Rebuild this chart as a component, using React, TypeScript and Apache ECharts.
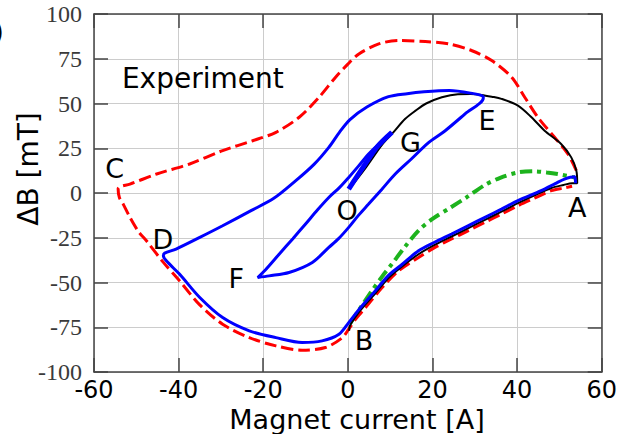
import React, { useEffect, useRef } from "react";
import * as echarts from "echarts";

const xTicks = { min: -60, max: 60, interval: 20 };
const yTicks = { min: -100, max: 100, interval: 25 };

const redLoop: number[][] = [
  [54, 12.5], [52, 21.8], [48.9, 31], [44.9, 42.3], [41.8, 53.5], [38.7, 64.7], [34, 74],
  [29.2, 79.6], [23.8, 83.3], [18.3, 84.6], [12, 85.2], [7.3, 83.3], [2.6, 77.7], [0, 72],
  [-2.9, 64.7], [-6.8, 53.5], [-11.5, 42.3], [-17, 33.9], [-22.5, 29.2], [-29.6, 23.7],
  [-37.4, 16.2], [-45.2, 10.6], [-51.5, 5], [-53.8, 3.6], [-54.3, 2.4], [-54, -2.5],
  [-53.1, -6.2], [-51.5, -13.6], [-49.5, -21.5], [-47.6, -26.7], [-43.7, -38.5], [-39.8, -49],
  [-35, -62.5], [-29.6, -73.3], [-23.3, -80.8], [-17, -85.4], [-10.8, -87.8], [-5.3, -86.3],
  [-1.3, -80.8], [0.2, -76], [2, -70], [4.2, -64], [8.1, -52.8], [12, -43.5], [16.7, -36],
  [20.5, -30.5], [24.5, -25.7], [28.5, -21], [32.4, -16.4], [36.3, -11.8], [40.2, -7.1],
  [44, -3], [48.1, 1.3], [51, 2.8], [53, 3.8],
];

const blackPath: number[][] = [
  [0.6, 3], [4.2, 14], [8.1, 27], [10.8, 34], [13.5, 41.3], [16, 46], [18.5, 50], [22.2, 53.5],
  [26, 55.2], [29, 55.3], [31.6, 54.8], [34, 53.8], [36.3, 52.6], [40.2, 48.8], [43.4, 42.3],
  [46.5, 34.8], [50.4, 27.4], [52.8, 19.9], [54, 12.5], [54.2, 5.5], [53, 5.5], [51, 4.5],
  [48.1, 2.8], [44, -1.5], [40.2, -5.7], [36.3, -10.4], [32.4, -15], [28.5, -19.6],
  [24.5, -24.3], [20.5, -29], [16.7, -34.2], [12.3, -42], [9.6, -47.5], [6.5, -56],
  [3, -65.5], [0.5, -74], [0.3, -77],
];

const bluePath: number[][] = [
  [53.8, 5.5], [53.6, 9.1], [51.2, 7.8], [49, 5.2], [45.7, 1.3], [40.2, -4.3], [36.3, -9],
  [32.4, -13.6], [28.5, -18.2], [24.5, -22.9], [20.5, -27.5], [16.7, -32.3], [12.5, -40.5],
  [9.6, -46], [6.5, -54.6], [3, -64], [0.2, -72.4], [-2.1, -78.9], [-6.1, -82.6],
  [-10.8, -83.5], [-17, -80.8], [-23.3, -77], [-29.6, -69.6], [-35, -58.4], [-39.8, -45.3],
  [-42.9, -37.9], [-43.6, -35], [-43.3, -33.6], [-40.6, -31.3], [-35, -24.8], [-29.6, -18.3],
  [-23, -10], [-17.5, -3], [-12.3, 6.9], [-8, 16], [-4.5, 25.5], [-2, 33.9], [0.5, 41],
  [4.5, 48], [9.6, 53.8], [14, 55.5], [18, 56.5], [24, 57.2], [29, 55.8], [32, 54],
  [32, 53], [27.7, 44.2], [23, 34.8], [19, 28], [15, 19], [11.2, 10.6], [8, 2], [4.9, -6.2],
  [2.5, -12.5], [0.2, -19.2], [-2.2, -25.5], [-4.5, -30.4], [-8.4, -38.8], [-13.9, -44.4],
  [-18.6, -46.3], [-21.3, -47.2], [-19.5, -43], [-16.2, -34.1], [-13, -25.5], [-10, -17.3],
  [-7.2, -9.5], [-4.5, -2.5], [-2, 3], [0.2, 8.7], [2.5, 15], [4.9, 21.8], [7.8, 28.5],
  [10.4, 33.9],
];

const blueOG: number[][] = [[10.4, 33.9], [7, 26], [3.5, 14], [0.2, 2.2]];

const greenPath: number[][] = [
  [0.5, -73], [3, -64], [5.7, -54.6], [8, -47], [10.4, -39.7], [13.5, -30], [16.7, -21],
  [20, -14.5], [24, -8.5], [28, -2.5], [32.4, 4.5], [36, 8.5], [40.2, 11.5], [44.2, 12.1],
  [47, 11.5], [49.6, 10.6], [53.6, 8.7],
];

const pointLabels: { name: string; value: number[] }[] = [
  { name: "C", value: [-55.1, 13.6] },
  { name: "D", value: [-43.7, -25.7] },
  { name: "F", value: [-26.4, -47.5] },
  { name: "O", value: [-0.2, -9.9] },
  { name: "G", value: [14.8, 28.3] },
  { name: "E", value: [32.9, 40.4] },
  { name: "A", value: [54.2, -8.1] },
  { name: "B", value: [3.8, -82.6] },
];

const titleText = "Experiment";
const titlePos = [-53.4, 63.9];
const xName = "Magnet current [A]";
const yName = "ΔB [mT]";

export default function App() {
  const ref = useRef<HTMLDivElement>(null);
  useEffect(() => {
    if (!ref.current) return;
    const chart = echarts.init(ref.current, undefined, { renderer: "svg" });
    const frame = { color: "#444", width: 1.5 };
    const split = { show: true, lineStyle: { color: "#cccccc", width: 1 } };
    const line = (data: number[][], color: string, width: number, type: any, z: number) => ({
      type: "line",
      data,
      showSymbol: false,
      smooth: 0.3,
      z,
      lineStyle: { color, width, type },
      silent: true,
    });
    const labelBase = {
      show: true, formatter: "{b}", color: "#000", fontFamily: "DejaVu Sans", opacity: 1,
      textBorderWidth: 0, textBorderColor: "transparent", textShadowBlur: 0,
    };
    chart.setOption({
      animation: false,
      grid: { left: 94, right: 16, top: 14, bottom: 62 },
      xAxis: [
        {
          type: "value", ...xTicks, position: "bottom",
          axisLine: { show: true, onZero: false, lineStyle: frame },
          axisTick: { show: true, inside: true, length: 14, lineStyle: frame },
          axisLabel: { color: "#000", fontSize: 24, lineHeight: 22, fontFamily: "DejaVu Sans", margin: 7 },
          splitLine: split,
        },
        {
          type: "value", ...xTicks, position: "top",
          axisLine: { show: true, onZero: false, lineStyle: frame },
          axisTick: { show: true, inside: true, length: 14, lineStyle: frame },
          axisLabel: { show: false },
          splitLine: { show: false },
        },
      ],
      yAxis: [
        {
          type: "value", ...yTicks, position: "left",
          axisLine: { show: true, onZero: false, lineStyle: frame },
          axisTick: { show: true, inside: true, length: 14, lineStyle: frame },
          axisLabel: { color: "#3a3a3a", fontSize: 24, fontFamily: "Liberation Serif", margin: 12 },
          splitLine: split,
        },
        {
          type: "value", ...yTicks, position: "right",
          axisLine: { show: true, onZero: false, lineStyle: frame },
          axisTick: { show: true, inside: true, length: 14, lineStyle: frame },
          axisLabel: { show: false },
          splitLine: { show: false },
        },
      ],
      series: [
        line(greenPath, "#1db31d", 4, [12, 5, 4, 5], 2),
        line(redLoop, "#ff0000", 3, [12, 5], 3),
        line(blackPath, "#000000", 2, "solid", 4),
        line(bluePath, "#0000ff", 3, "solid", 5),
        line(blueOG, "#0000ff", 5, "solid", 6),
        {
          type: "scatter",
          symbolSize: 0,
          z: 10,
          itemStyle: { color: "transparent", opacity: 1 },
          data: pointLabels,
          label: { ...labelBase, position: "inside", fontSize: 27 },
        },
        {
          type: "scatter",
          symbolSize: 0,
          z: 10,
          itemStyle: { color: "transparent", opacity: 1 },
          data: [{ name: titleText, value: titlePos }],
          label: { ...labelBase, position: "inside", align: "left", fontSize: 28 },
        },
      ],
      graphic: [
        {
          type: "text", x: 357, y: 419,
          style: { text: xName, align: "center", verticalAlign: "middle", lineHeight: 26, font: "27px 'DejaVu Sans'", fill: "#000" },
        },
        {
          type: "text", x: 28.5, y: 169, rotation: Math.PI / 2,
          style: { text: yName, align: "center", verticalAlign: "middle", font: "28px 'DejaVu Sans'", fill: "#000" },
        },
        {
          type: "text", x: 4, y: 32,
          style: { text: ")", align: "right", verticalAlign: "middle", font: "28px 'DejaVu Sans'", fill: "#000" },
        },
      ],
    });
    return () => chart.dispose();
  }, []);
  return <div ref={ref} style={{ width: 620, height: 434, position: "absolute", left: 0, top: 0 }} />;
}
